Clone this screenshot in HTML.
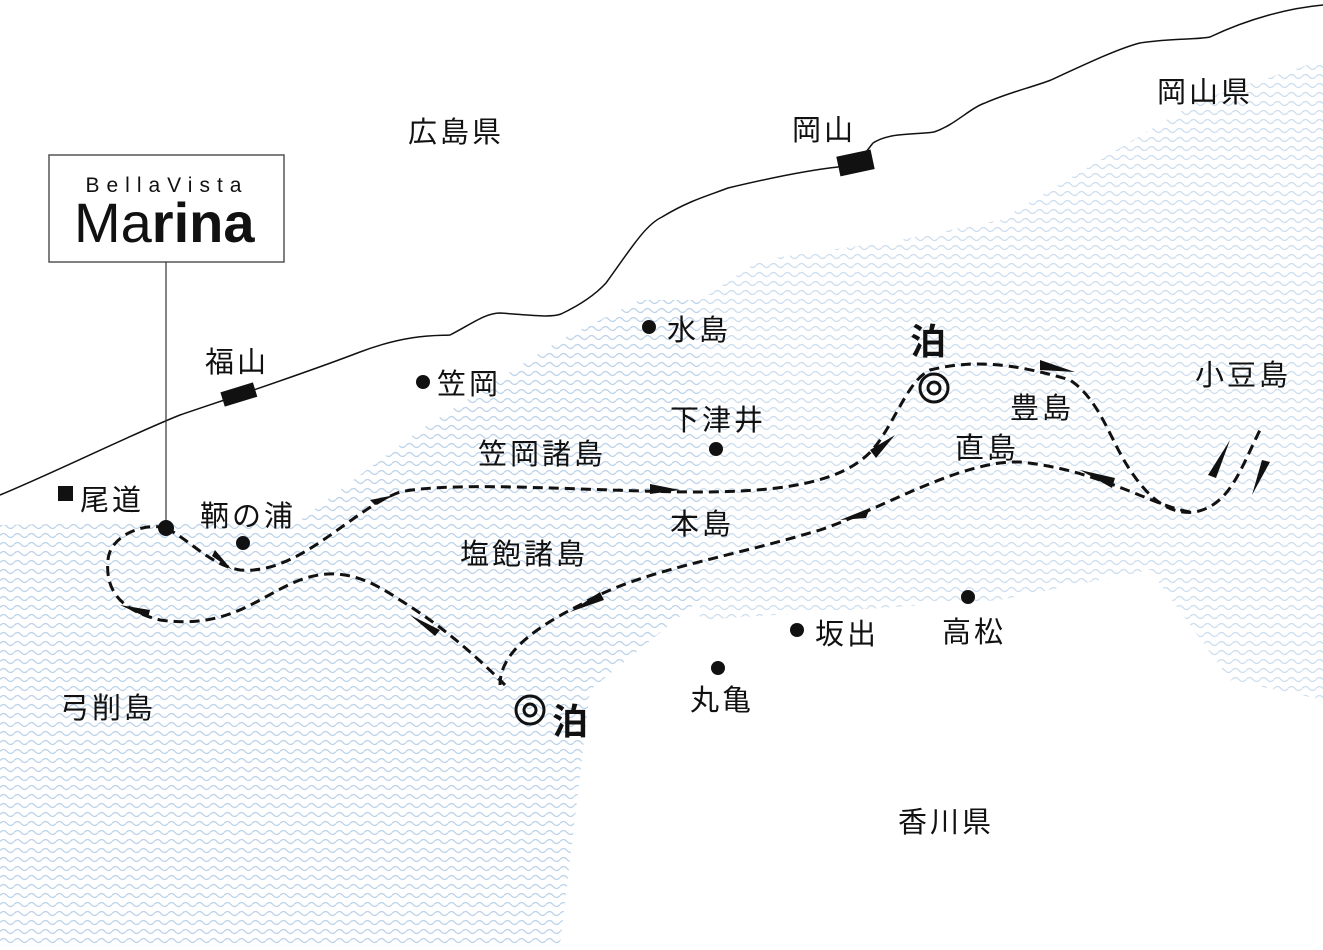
<!DOCTYPE html>
<html><head><meta charset="utf-8"><style>
body{margin:0;background:#fff;}
svg text{font-family:"Liberation Sans","Noto Sans CJK JP",sans-serif;fill:#111;}
</style></head><body>
<svg width="1323" height="945" viewBox="0 0 1323 945" xmlns="http://www.w3.org/2000/svg">
<defs>
<pattern id="w" width="14" height="9" patternUnits="userSpaceOnUse">
<path d="M0 4.5 Q3.5 0.5 7 4.5 T14 4.5" fill="none" stroke="#bcd3ea" stroke-width="1.3"/>
</pattern>
</defs>
<path d="M0 525 L300 520 L420 430 L560 340 L640 300 L700 300 L700 600 L590 690 L560 945 L0 945 Z" fill="url(#w)"/>
<path d="M700 300 L760 260 L900 240 L1000 220 L1100 160 L1200 100 L1323 60 L1323 700 L1230 680 L1150 570 L1000 600 L850 610 L700 620 Z" fill="url(#w)" opacity="0.75"/>
<path d="M0 495 C60 470 130 435 180 415 C230 398 300 375 360 352 C410 333 440 336 450 335 C470 325 485 313 500 313 C530 315 550 318 561 314 C580 305 595 295 606 283 C630 250 645 225 662 217 C690 200 710 195 728 188 C770 178 810 170 838 167 M873 143 C890 132 915 135 934 132 C955 125 970 108 985 103 C1010 92 1030 88 1051 80 C1090 62 1120 48 1140 43 C1170 38 1195 40 1210 37 C1250 18 1290 8 1323 5" fill="none" stroke="#111" stroke-width="1.5"/>
<path d="M838 167 L858 160 L866 152 L873 143" fill="none" stroke="#111" stroke-width="1.5"/>
<rect x="838" y="153" width="35" height="20" fill="#111" transform="rotate(-12 855 163)"/>
<rect x="222" y="387" width="34" height="15" fill="#111" transform="rotate(-17 239 395)"/>
<rect x="49" y="155" width="235" height="107" fill="#fff" stroke="#555" stroke-width="1.5"/>
<line x1="166" y1="262" x2="166" y2="526" stroke="#333" stroke-width="1.2"/>
<text x="167" y="192" font-size="21" text-anchor="middle" letter-spacing="7" fill="#222">BellaVista</text>
<text x="74" y="242" font-size="56" fill="#111">Ma<tspan font-weight="bold">rina</tspan></text>
<g fill="none" stroke="#111" stroke-width="3" stroke-dasharray="10,6">
<path d="M166 528 C145 522 110 535 108 560 C105 590 120 610 160 620 C230 630 260 595 300 580 C340 565 370 580 400 600 C440 625 470 650 505 685"/>
<path d="M166 528 C190 540 210 565 240 570 C300 575 350 510 400 492 C460 480 600 492 700 492 C820 492 860 470 880 440 C900 410 910 380 930 370 C970 360 1010 362 1070 380 C1100 400 1110 440 1130 470 C1150 500 1170 515 1195 512 C1230 505 1240 470 1260 430"/>
<path d="M1190 512 C1150 505 1100 470 1020 462 C960 460 880 510 820 530 C720 560 640 570 580 605 C520 635 500 660 500 685"/>
</g>
<g fill="#111">
<circle cx="166" cy="528" r="8"/>
<circle cx="243" cy="543" r="7"/><circle cx="423" cy="382" r="7"/><circle cx="649" cy="327" r="7"/>
<circle cx="716" cy="449" r="7"/><circle cx="797" cy="630" r="7"/><circle cx="968" cy="597" r="7"/><circle cx="718" cy="668" r="7"/>
<rect x="58" y="486" width="15" height="15"/>
<path d="M232 570 L212 556 L215 550 Z M395 495 L375 505 L370 500 Z M680 490 L650 484 L650 494 Z M895 435 L870 450 L876 458 Z M1075 372 L1040 360 L1040 370 Z M1080 470 L1115 478 L1112 488 Z M840 520 L870 508 L866 518 Z M570 612 L600 592 L604 600 Z M120 605 L150 610 L148 618 Z M410 615 L440 630 L435 636 Z M1230 440 L1208 475 L1216 478 Z M1252 495 L1262 460 L1270 462 Z"/>
</g>
<g fill="none" stroke="#111" stroke-width="3">
<circle cx="934" cy="388" r="14"/><circle cx="934" cy="388" r="6"/>
<circle cx="530" cy="710" r="14"/><circle cx="530" cy="710" r="6"/>
</g>
<g font-size="29" letter-spacing="3">
<text x="408" y="142">広島県</text><text x="1157" y="102">岡山県</text><text x="792" y="140">岡山</text>
<text x="205" y="372">福山</text><text x="80" y="510">尾道</text><text x="200" y="526">鞆の浦</text>
<text x="437" y="394">笠岡</text><text x="667" y="340">水島</text><text x="670" y="430">下津井</text>
<text x="478" y="464">笠岡諸島</text><text x="670" y="534">本島</text><text x="460" y="564">塩飽諸島</text>
<text x="1010" y="418">豊島</text><text x="955" y="458">直島</text><text x="1195" y="385">小豆島</text>
<text x="815" y="644">坂出</text><text x="942" y="642">高松</text><text x="690" y="710">丸亀</text>
<text x="60" y="718">弓削島</text><text x="898" y="832">香川県</text>
<text x="910" y="354" font-size="36" font-weight="bold">泊</text>
<text x="552" y="734" font-size="36" font-weight="bold">泊</text>
</g>
</svg>
</body></html>
